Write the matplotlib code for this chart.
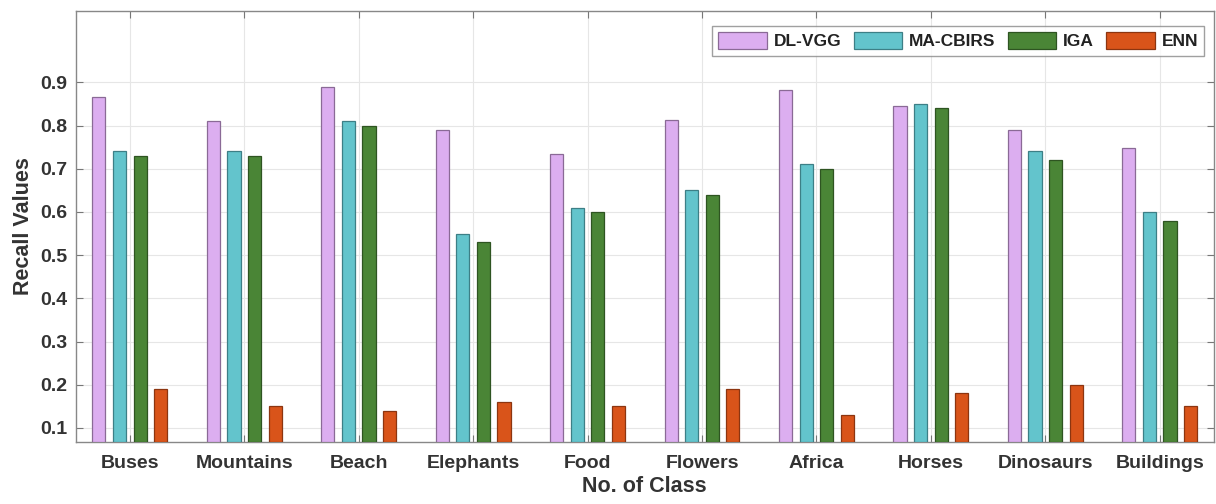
import numpy as np
import matplotlib.pyplot as plt

plt.rcParams["font.family"] = ["Liberation Sans", "DejaVu Sans"]
plt.rcParams["font.weight"] = "bold"

# data
classes = ["Buses", "Mountains", "Beach", "Elephants", "Food",
           "Flowers", "Africa", "Horses", "Dinosaurs", "Buildings"]
series_names = ["DL-VGG", "MA-CBIRS", "IGA", "ENN"]
dl_vgg = [0.865, 0.81, 0.89, 0.79, 0.735, 0.812, 0.882, 0.846, 0.79, 0.747]
ma_cbirs = [0.74, 0.74, 0.81, 0.55, 0.61, 0.65, 0.71, 0.85, 0.74, 0.60]
iga = [0.73, 0.73, 0.80, 0.53, 0.60, 0.64, 0.70, 0.84, 0.72, 0.58]
enn = [0.19, 0.15, 0.14, 0.16, 0.15, 0.19, 0.13, 0.18, 0.20, 0.15]
yticks = [0.1, 0.2, 0.3, 0.4, 0.5, 0.6, 0.7, 0.8, 0.9]

colors = ["#DCAEF0", "#63C4CC", "#4A8536", "#D9541A"]
edges = ["#8A6A96", "#3D7F86", "#2E5421", "#8C3510"]

fig = plt.figure(figsize=(12.16, 5.04), dpi=100)
ax = fig.add_axes([0.0625, 0.123, 0.9355, 0.855])

x = np.arange(1, len(classes) + 1)
offsets = [-0.27, -0.09, 0.09, 0.27]
width = 0.115
base = 0.0675
for vals, name, c, ec, off in zip([dl_vgg, ma_cbirs, iga, enn], series_names, colors, edges, offsets):
    v = np.array(vals)
    ax.bar(x + off, v - base, width, bottom=base, color=c, edgecolor=ec,
           linewidth=0.9, label=name, zorder=3)

ax.set_xlim(0.53, 10.47)
ax.set_ylim(base, 1.065)
ax.set_xticks(x)
ax.set_xticklabels(classes, fontsize=14, fontweight="bold", color="#333333")
ax.set_yticks(yticks)
ax.set_yticklabels([f"{t:.1f}" for t in yticks], fontsize=14, fontweight="bold", color="#333333")
ax.tick_params(axis="x", pad=9)
ax.tick_params(axis="y", pad=6)
ax.tick_params(direction="in", length=5, width=0.8, color="#777777",
               top=True, right=True)
ax.grid(True, color="#E6E6E6", linewidth=0.8, zorder=0)
for s in ax.spines.values():
    s.set_color("#888888")
    s.set_linewidth(1.0)

ax.set_ylabel("Recall Values", fontsize=15.5, fontweight="bold", color="#333333", labelpad=5)
ax.set_xlabel("No. of Class", fontsize=15.5, fontweight="bold", color="#333333", labelpad=3)

leg = ax.legend(loc="upper right", bbox_to_anchor=(0.992, 0.965), ncol=4,
                fontsize=12.5, frameon=True, fancybox=False, borderaxespad=0,
                handlelength=2.8, handleheight=1.1, columnspacing=0.7,
                handletextpad=0.4, borderpad=0.35)
leg.get_frame().set_edgecolor("#888888")
leg.get_frame().set_linewidth(1.0)
for t in leg.get_texts():
    t.set_color("#222222")

fig.savefig("out.png", dpi=100)
